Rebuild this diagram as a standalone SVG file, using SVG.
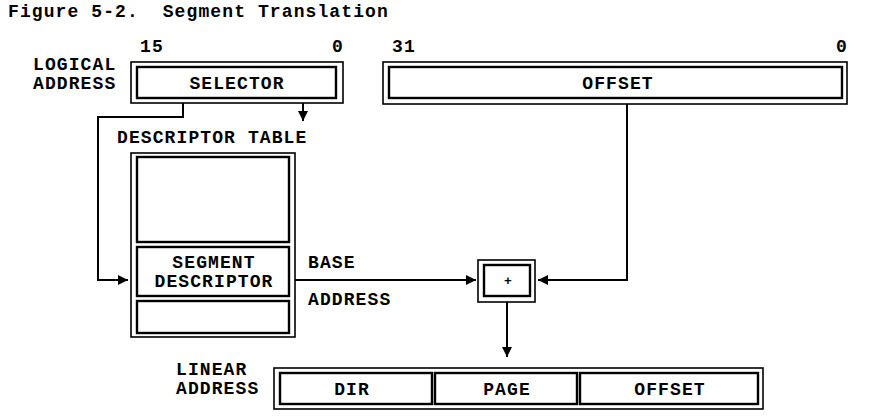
<svg xmlns="http://www.w3.org/2000/svg" width="879" height="416" viewBox="0 0 879 416">
<defs>
<style>
text{font-family:"Liberation Mono","DejaVu Sans Mono",monospace;font-weight:bold;font-size:18px;letter-spacing:1.1px;fill:#000}
.o{fill:none;stroke:#000;stroke-width:1.6}
.i{fill:#fff;stroke:#000;stroke-width:2.4}
.c{fill:none;stroke:#000;stroke-width:2}
.m{text-anchor:middle}
</style>
<marker id="ah" viewBox="0 0 10 10" refX="10" refY="5" markerWidth="10" markerHeight="10" markerUnits="userSpaceOnUse" orient="auto">
<path d="M0,0 L10,5 L0,10 Z" fill="#000"/>
</marker>
</defs>
<rect width="879" height="416" fill="#fff"/>
<text x="8" y="17" xml:space="preserve" style="white-space:pre">Figure 5-2.  Segment Translation</text>

<g id="logical-label">
<text x="33" y="70">LOGICAL</text>
<text x="33" y="89">ADDRESS</text>
</g>
<g id="selector">
<text x="140" y="52">15</text>
<text x="332" y="52">0</text>
<rect class="o" x="131" y="62" width="212" height="41"/>
<rect class="i" x="137" y="67" width="199" height="31"/>
<text class="m" x="237" y="89">SELECTOR</text>
</g>
<g id="offset">
<text x="392" y="52">31</text>
<text x="836" y="52">0</text>
<rect class="o" x="383" y="62" width="464" height="42"/>
<rect class="i" x="389" y="67" width="453" height="31"/>
<text class="m" x="618" y="89">OFFSET</text>
</g>
<g id="descriptor-table">
<text x="117" y="143">DESCRIPTOR TABLE</text>
<rect class="o" x="131" y="153" width="164" height="184"/>
<rect class="i" x="137" y="157" width="152" height="85"/>
<rect class="i" x="137" y="247" width="152" height="49"/>
<rect class="i" x="137" y="301" width="152" height="32"/>
<text class="m" x="214" y="268">SEGMENT</text>
<text class="m" x="214" y="287">DESCRIPTOR</text>
</g>
<g id="base-label">
<text x="308" y="268">BASE</text>
<text x="308" y="305">ADDRESS</text>
</g>
<g id="adder">
<rect class="o" x="478" y="260" width="57" height="42"/>
<rect class="i" x="484" y="265" width="46" height="31"/>
<text class="m" x="508" y="285" style="font-size:13px;letter-spacing:0">+</text>
</g>
<g id="linear-address">
<text x="176" y="375">LINEAR</text>
<text x="176" y="394">ADDRESS</text>
<rect class="o" x="274" y="368" width="489" height="41"/>
<rect class="i" x="280" y="373" width="152" height="31"/>
<rect class="i" x="435" y="373" width="142" height="31"/>
<rect class="i" x="580" y="373" width="178" height="31"/>
<text class="m" x="352" y="395">DIR</text>
<text class="m" x="507" y="395">PAGE</text>
<text class="m" x="670" y="395">OFFSET</text>
</g>
<g id="connectors">
<polyline class="c" points="183,103 183,117 98,117 98,280 128,280" marker-end="url(#ah)"/>
<line class="c" x1="303" y1="103" x2="303" y2="121" marker-end="url(#ah)"/>
<line class="c" x1="295" y1="280" x2="476" y2="280" marker-end="url(#ah)"/>
<polyline class="c" points="627,104 627,280 538,280" marker-end="url(#ah)"/>
<line class="c" x1="507" y1="302" x2="507" y2="357" marker-end="url(#ah)"/>
</g>
</svg>
